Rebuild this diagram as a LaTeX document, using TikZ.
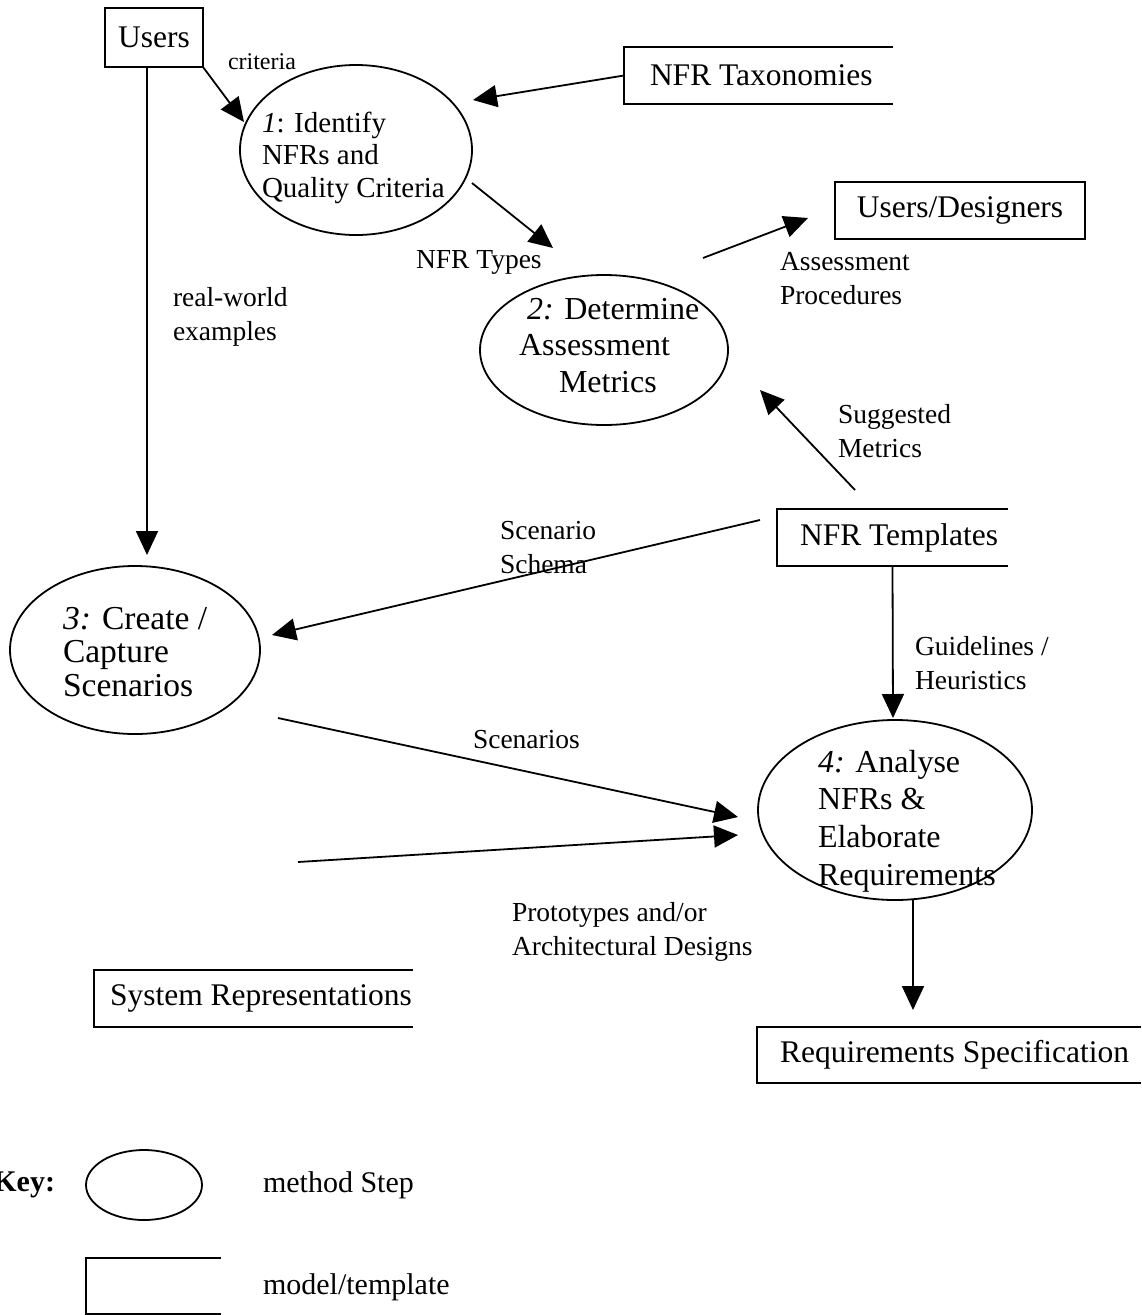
\documentclass[tikz,border=0pt]{standalone}
\usepackage{fontspec}
\setmainfont{Liberation Serif}
\usetikzlibrary{arrows.meta,shapes.geometric,calc}
\newcommand\opensides[1]{\draw[boxline] (#1.north east) -- (#1.north west) -- (#1.south west) -- (#1.south east);}
\begin{document}
\begin{tikzpicture}[x=1pt,y=-1pt,
  every node/.style={inner sep=0pt, outer sep=0pt},
  boxline/.style={line width=1.8pt},
  stepell/.style={draw, ellipse, line width=1.8pt},
  steptext/.style={align=left, anchor=north west},
  cbox/.style={draw, line width=1.8pt, font=\fontsize{31.5}{34}\selectfont},
  obox/.style={},
  boxtext/.style={anchor=west, font=\fontsize{31.5}{34}\selectfont},
  lbl/.style={anchor=west, align=left, font=\fontsize{27.5}{34}\selectfont},
  arr/.style={line width=1.8pt, -{Triangle[length=24pt,width=22pt]}}
]
\useasboundingbox (0,0) rectangle (1141,1315);

% method steps
\node[stepell, minimum width=232, minimum height=170] (e1) at (356,150) {};
\node[steptext, font=\fontsize{29}{32.5}\selectfont] (e1t) at (262,112) {\textit{1}: Identify\\NFRs and\\Quality Criteria};
\node[stepell, minimum width=248, minimum height=150] (e2) at (604,350) {};
\node[steptext, font=\fontsize{32}{36.5}\selectfont] (e2t) at (519,298) {\hspace*{8pt}\textit{2:} Determine\\Assessment\\\hspace*{40pt}Metrics};
\node[stepell, minimum width=250, minimum height=168] (e3) at (135,650) {};
\node[steptext, font=\fontsize{33.5}{33.5}\selectfont] (e3t) at (63,607) {\textit{3:} Create /\\Capture\\Scenarios};
\node[stepell, minimum width=274, minimum height=180] (e4) at (895,810) {};
\node[steptext, font=\fontsize{32}{37.7}\selectfont] (e4t) at (818,750) {\textit{4:} Analyse\\NFRs \&\\Elaborate\\Requirements};

% models / templates
\node[cbox, minimum width=98, minimum height=59] (users) at (154,37.5) {Users};
\node[cbox, minimum width=250, minimum height=57] (ud) at (960,210.5) {Users/Designers};
\node[obox, minimum width=269, minimum height=57] (nfrtax) at (758.5,75.5) {};
\opensides{nfrtax}
\node[boxtext] (nfrtaxt) at ([xshift=26]nfrtax.west) {NFR Taxonomies};
\node[obox, minimum width=231, minimum height=57] (templ) at (892.5,537.5) {};
\opensides{templ}
\node[boxtext] (templt) at ([xshift=23]templ.west) {NFR Templates};
\node[obox, minimum width=319, minimum height=57] (sysrep) at (253.5,998.5) {};
\opensides{sysrep}
\node[boxtext] (sysrept) at ([xshift=16]sysrep.west) {System Representations};
\node[obox, minimum width=384, minimum height=56] (reqspec) at (949,1055) {};
\opensides{reqspec}
\node[boxtext] (reqspect) at ([xshift=23]reqspec.west) {Requirements Specification};

% connectors
\draw[arr] (users.south east) -- ($(e1.center)+(-112,-28)$);
\draw[arr] (nfrtax.west) -- ($(e1.center)+(117,-50)$);
\draw[arr] ($(e1.center)+(116,33)$) -- ($(e2.center)+(-51,-102)$);
\draw[arr] ($(e2.center)+(99,-92)$) -- ($(ud.west)+(-27,7.5)$);
\draw[arr] ($(users.south)+(-7,0)$) -- ($(e3.center)+(12,-95)$);
\draw[arr] ($(templ.center)+(-37.5,-47.5)$) -- ($(e2.center)+(156,40)$);
\draw[arr] ($(templ.west)+(-17,-17.5)$) -- ($(e3.center)+(137,-15)$);
\draw[arr] (templ.south) -- ($(e4.center)+(-2,-92)$);
\draw[arr] ($(e3.center)+(143,68)$) -- ($(e4.center)+(-157,7)$);
\draw[arr] ($(sysrep.north)+(44.5,-108)$) -- ($(e4.center)+(-157,25)$);
\draw[arr] ($(e4.south)+(18,0)$) -- ($(reqspec.north)+(-36,-17)$);

% labels
\node[lbl, font=\fontsize{24}{28}\selectfont] (lcrit) at (228,62) {criteria};
\node[lbl] (ltypes) at (416,262) {NFR Types};
\node[lbl] (lassess) at (780,279) {Assessment\\Procedures};
\node[lbl] (lreal) at (173,316.5) {real-world\\examples};
\node[lbl] (lsugg) at (838,431) {Suggested\\Metrics};
\node[lbl] (lschema) at (500,548) {Scenario\\Schema};
\node[lbl] (lguide) at (915,663) {Guidelines /\\Heuristics};
\node[lbl] (lscen) at (473,740) {Scenarios};
\node[lbl] (lproto) at (512,932) {Prototypes and/or\\Architectural Designs};

% key
\node[anchor=east, font=\fontsize{30}{34}\selectfont\bfseries] (key) at (55,1185) {Key:};
\node[stepell, minimum width=116, minimum height=70] (keyell) at (144,1185) {};
\node[obox, minimum width=135, minimum height=56] (keyrect) at (153.5,1286) {};
\opensides{keyrect}
\node[lbl, font=\fontsize{30}{34}\selectfont] (lkey1) at (263,1185) {method Step};
\node[lbl, font=\fontsize{30}{34}\selectfont] (lkey2) at (263,1287) {model/template};
\end{tikzpicture}
\end{document}
